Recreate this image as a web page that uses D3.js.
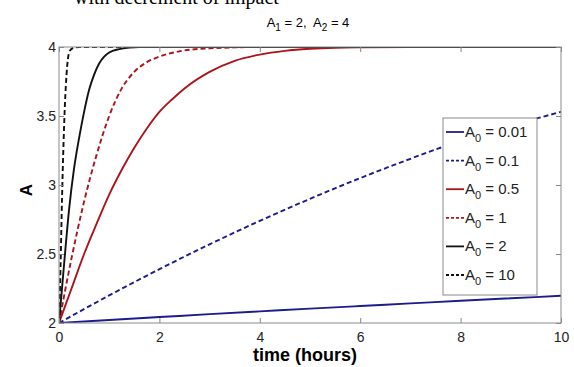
<!DOCTYPE html>
<html>
<head>
<meta charset="utf-8">
<script src="https://cdn.jsdelivr.net/npm/d3@7"></script>
<style>
body { margin: 0; background: #fff; }
svg { display: block; font-family: "Liberation Sans", Arial, sans-serif; }
</style>
</head>
<body>
<div></div>
<script>
var width = 574;
var height = 367;

// legend values of A0
var a0Labels = ["0.01", "0.1", "0.5", "1", "2", "10"];

// time points (hours) and A values
var tBlue = [0, 1, 2, 3, 4, 5, 6, 7, 8, 9, 10];
var a001 = [2, 2.022, 2.043, 2.064, 2.084, 2.104, 2.123, 2.142, 2.161, 2.179, 2.197];
var a01 = [2, 2.20, 2.39, 2.57, 2.74, 2.90, 3.05, 3.19, 3.32, 3.43, 3.53];

var tRed05 = [0, 0.25, 0.5, 0.75, 1, 1.25, 1.5, 1.75, 2, 2.25, 2.5, 3, 3.5, 4, 4.5, 5, 5.5, 6, 7, 10];
var a05 = [2, 2.25, 2.50, 2.72, 2.93, 3.11, 3.27, 3.41, 3.53, 3.62, 3.70, 3.82, 3.90, 3.945, 3.972, 3.987, 3.995, 3.998, 4, 4];

var tRed1 = [0, 0.25, 0.5, 0.75, 1, 1.25, 1.5, 1.75, 2, 2.5, 3, 3.5, 4, 10];
var a1 = [2, 2.47, 2.88, 3.22, 3.50, 3.70, 3.82, 3.89, 3.93, 3.975, 3.99, 3.997, 4, 4];

var tBlack2 = [0, 0.1, 0.2, 0.3, 0.4, 0.5, 0.6, 0.7, 0.8, 0.9, 1, 1.2, 1.4, 1.6, 10];
var a2 = [2, 2.42, 2.82, 3.12, 3.34, 3.53, 3.69, 3.80, 3.88, 3.93, 3.96, 3.985, 3.996, 4, 4];

var tBlack10 = [0, 0.03, 0.06, 0.09, 0.12, 0.15, 0.18, 0.22, 0.3, 0.4, 10];
var a10 = [2, 2.4, 2.9, 3.3, 3.6, 3.8, 3.92, 3.975, 3.995, 4, 4];

var xTicks = [0, 2, 4, 6, 8, 10];
var yTicks = [2, 2.5, 3, 3.5, 4];

var series = [
	{ t: tBlue, a: a001, color: "#1c1c8f", dash: null },
	{ t: tBlue, a: a01, color: "#1c1c8f", dash: "5,3" },
	{ t: tRed05, a: a05, color: "#ad1419", dash: null },
	{ t: tRed1, a: a1, color: "#ad1419", dash: "5,3" },
	{ t: tBlack2, a: a2, color: "#111", dash: null },
	{ t: tBlack10, a: a10, color: "#111", dash: "5,3" }
];

var svg = d3.select("div")
	.append("svg")
	.attr("width", width)
	.attr("height", height);

var x = d3.scaleLinear().domain([0, 10]).range([59, 561]);
var y = d3.scaleLinear().domain([2, 4]).range([323, 47]);

// cut-off line of the page text above the figure
svg.append("text")
	.attr("x", 74)
	.attr("y", 4)
	.attr("font-family", "Liberation Serif, Times New Roman, serif")
	.attr("font-size", 20)
	.text("with decrement of impact");

// title with subscripts
var title = svg.append("text")
	.attr("x", 308)
	.attr("y", 27)
	.attr("text-anchor", "middle")
	.attr("font-size", 13)
	.style("white-space", "pre");
title.append("tspan").text("A");
title.append("tspan").attr("dy", 4).attr("font-size", 10).text("1");
title.append("tspan").attr("dy", -4).text(" = 2,  A");
title.append("tspan").attr("dy", 4).attr("font-size", 10).text("2");
title.append("tspan").attr("dy", -4).text(" = 4");

svg.append("clipPath")
	.attr("id", "plot")
	.append("rect")
	.attr("x", x(0))
	.attr("y", y(4))
	.attr("width", x(10) - x(0))
	.attr("height", y(2) - y(4));

var line = d3.line()
	.x(d => x(d[0]))
	.y(d => y(d[1]))
	.curve(d3.curveMonotoneX);

svg.append("g")
	.attr("clip-path", "url(#plot)")
	.selectAll("path")
	.data(series)
	.enter()
	.append("path")
	.attr("d", s => line(s.t.map((t, i) => [t, s.a[i]])))
	.attr("fill", "none")
	.attr("stroke", s => s.color)
	.attr("stroke-width", 1.9)
	.attr("stroke-dasharray", s => s.dash);

// axes with inward ticks
var bottom = svg.append("g")
	.attr("transform", "translate(0," + y(2) + ")")
	.call(d3.axisBottom(x).tickValues(xTicks).tickSizeInner(-5).tickSizeOuter(0).tickPadding(9).tickFormat(d => d));

var top = svg.append("g")
	.attr("transform", "translate(0," + y(4) + ")")
	.call(d3.axisTop(x).tickValues(xTicks).tickSizeInner(-5).tickSizeOuter(0).tickFormat(""));

var left = svg.append("g")
	.attr("transform", "translate(" + x(0) + ",0)")
	.call(d3.axisLeft(y).tickValues(yTicks).tickSizeInner(-5).tickSizeOuter(0).tickPadding(3).tickFormat(d => d));

var right = svg.append("g")
	.attr("transform", "translate(" + x(10) + ",0)")
	.call(d3.axisRight(y).tickValues(yTicks).tickSizeInner(-5).tickSizeOuter(0).tickFormat(""));

svg.selectAll(".domain").remove();
svg.selectAll(".tick line").attr("stroke", "#888");
svg.selectAll(".tick text")
	.attr("font-family", "Liberation Sans, Arial, sans-serif")
	.attr("font-size", 14)
	.attr("fill", "#222");

svg.append("rect")
	.attr("x", x(0))
	.attr("y", y(4))
	.attr("width", x(10) - x(0))
	.attr("height", y(2) - y(4))
	.attr("fill", "none")
	.attr("stroke", "#8a8a8a")
	.attr("stroke-width", 1);

svg.append("text")
	.attr("x", 305)
	.attr("y", 361)
	.attr("text-anchor", "middle")
	.attr("font-size", 18)
	.attr("font-weight", "bold")
	.text("time (hours)");

svg.append("text")
	.attr("transform", "translate(32,190) rotate(-90)")
	.attr("text-anchor", "middle")
	.attr("font-size", 17)
	.attr("font-weight", "bold")
	.text("A");

// legend
var legend = svg.append("g");
legend.append("rect")
	.attr("x", 443)
	.attr("y", 118)
	.attr("width", 94)
	.attr("height", 177)
	.attr("fill", "#fff")
	.attr("stroke", "#8a8a8a");

var rows = legend.selectAll("g.row")
	.data(series)
	.enter()
	.append("g")
	.attr("class", "row")
	.attr("transform", (s, i) => "translate(0," + (132 + i * 28.6) + ")");

rows.append("line")
	.attr("x1", 446)
	.attr("x2", 464)
	.attr("stroke", s => s.color)
	.attr("stroke-width", 1.8)
	.attr("stroke-dasharray", s => s.dash ? "3,2" : null);

var labels = rows.append("text")
	.attr("x", 465)
	.attr("y", 5)
	.attr("font-size", 15)
	.attr("fill", "#222");
labels.append("tspan").text("A");
labels.append("tspan").attr("dy", 5).attr("font-size", 11).text("0");
labels.append("tspan").attr("dy", -5).text((s, i) => " = " + a0Labels[i]);
</script>
</body>
</html>
